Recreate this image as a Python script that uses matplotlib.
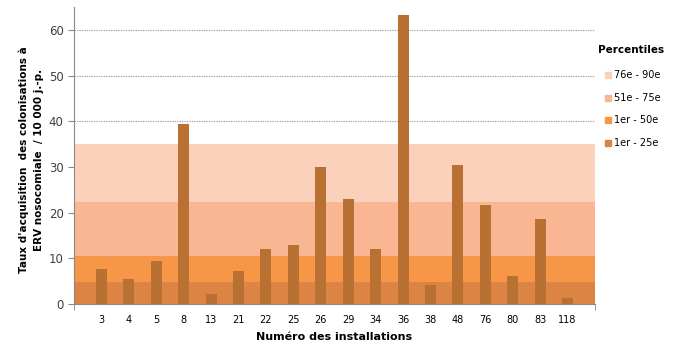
import matplotlib
matplotlib.use("Agg")
import matplotlib.pyplot as plt
from matplotlib.patches import Rectangle

installations = ["3", "4", "5", "8", "13", "21", "22", "25", "26", "29",
                 "34", "36", "38", "48", "76", "80", "83", "118"]
taux = [7.7, 5.5, 9.4, 39.5, 2.2, 7.2, 12.1, 12.9, 30.0, 23.0,
        12.1, 63.2, 4.2, 30.5, 21.7, 6.1, 18.6, 1.3]
band_labels = ["76e - 90e", "51e - 75e", "1er - 50e", "1er - 25e"]
band_tops = [35.0, 22.4, 10.5, 4.8]
band_colors = ["#FBD1BC", "#F8B692", "#F79646", "#DB8443"]
bar_color = "#B87033"

fig = plt.figure(figsize=(6.76, 3.51), dpi=100)
ax = fig.add_axes([74/676, 1-304/351, (595-74)/676, (304-7)/351])

xs = list(range(1, len(installations)+1))
for top, c in zip(band_tops, band_colors):
    ax.axhspan(0, top, color=c, zorder=1, lw=0)
ax.bar(xs, taux, width=0.4, color=bar_color, zorder=3)

ax.set_xlim(0, len(installations)+1)
ax.set_ylim(0, 65)
ax.set_yticks(range(0, 61, 10))
ax.yaxis.grid(True, color="#a0a0a0", linestyle=(0, (1.2, 1)), lw=0.8, zorder=0)
ax.set_axisbelow(True)

ax.set_xticks(xs)
ax.set_xticklabels(installations, fontsize=7)
ax.tick_params(axis="x", length=0, pad=8)
ax.set_xticks([0, len(installations)+1], minor=True)
ax.tick_params(axis="x", which="minor", length=4, color="#898989")
ax.tick_params(axis="y", length=4, color="#898989", labelsize=8.5, labelcolor="#404040")

for s in ["top", "right"]:
    ax.spines[s].set_visible(False)
for s in ["left", "bottom"]:
    ax.spines[s].set_color("#898989")

ax.set_xlabel("Numéro des installations", fontsize=8, fontweight="bold", labelpad=5)
fig.text(31/676, 1-160/351, "Taux d'acquisition  des colonisations à\nERV nosocomiale  / 10 000 j.-p.",
         rotation=90, ha="center", va="center", fontsize=7.5, fontweight="bold", linespacing=1.6)

# legend
fig.text(598/676, 1-50/351, "Percentiles", fontsize=7.5, fontweight="bold", va="center", ha="left")
legend_y = [75, 98, 120, 143]
for lab, c, y in zip(band_labels, band_colors, legend_y):
    fig.patches.append(Rectangle((605/676, 1-(y+3)/351), 6/676, 6/351,
                                 transform=fig.transFigure, color=c, figure=fig))
    fig.text(614/676, 1-y/351, lab, fontsize=7, va="center", ha="left")

fig.savefig("out.png", dpi=100)
